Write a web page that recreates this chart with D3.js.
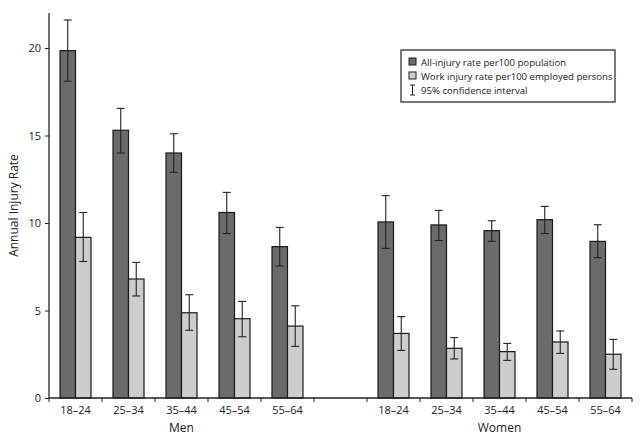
<!DOCTYPE html>
<html><head><meta charset="utf-8">
<script src="https://cdn.jsdelivr.net/npm/d3@7"></script>
<style>body{margin:0;background:#fff;}svg{display:block;font-family:"Open Sans",sans-serif;}</style>
</head><body><svg id="c" width="640" height="448"></svg>
<script>
const groups = ["Men", "Women"];
const ages = ["18–24", "25–34", "35–44", "45–54", "55–64"];
const slots = ["M18–24","M25–34","M35–44","M45–54","M55–64","gap","W18–24","W25–34","W35–44","W45–54","W55–64"];
const allRate = [19.85, 15.3, 14.0, 10.6, 8.65, 10.06, 9.89, 9.56, 10.19, 8.95];
const allLow  = [18.1, 14.0, 12.9, 9.4, 7.54, 8.55, 9.0, 8.95, 9.4, 8.02];
const allHigh = [21.6, 16.55, 15.1, 11.75, 9.75, 11.56, 10.72, 10.13, 10.95, 9.9];
const workRate = [9.18, 6.8, 4.87, 4.53, 4.11, 3.69, 2.84, 2.65, 3.2, 2.5];
const workLow  = [7.8, 5.83, 3.87, 3.5, 2.95, 2.72, 2.23, 2.15, 2.55, 1.64];
const workHigh = [10.6, 7.75, 5.9, 5.52, 5.27, 4.65, 3.45, 3.12, 3.83, 3.35];
const yTicks = [0, 5, 10, 15, 20];
const legendLabels = ["All-injury rate per100 population", "Work injury rate per100 employed persons", "95% confidence interval"];

const svg = d3.select("#c");
const mL = 49, mR = 632, mT = 13, mB = 398;
const x = d3.scaleBand().domain(slots).range([mL, mR]).padding(0);
const inner = d3.scaleBand().domain(["all","work"]).range([0, x.bandwidth()]).paddingInner(0).paddingOuter(0.71);
const y = d3.scaleLinear().domain([0, 22]).range([mB, mT]);

const slotOf = i => i < 5 ? "M" + ages[i] : "W" + ages[i - 5];
const rows = [];
allRate.forEach((v, i) => rows.push({slot: slotOf(i), s: "all", v, lo: allLow[i], hi: allHigh[i]}));
workRate.forEach((v, i) => rows.push({slot: slotOf(i), s: "work", v, lo: workLow[i], hi: workHigh[i]}));
const fill = {all: "#6b6b6b", work: "#cdcdcd"};

svg.selectAll("rect.bar").data(rows).join("rect").attr("class","bar")
  .attr("x", d => x(d.slot) + inner(d.s))
  .attr("width", inner.bandwidth())
  .attr("y", d => y(d.v))
  .attr("height", d => y(0) - y(d.v))
  .attr("fill", d => fill[d.s]).attr("stroke", "#1a1a1a").attr("stroke-width", 1.2);

const eb = svg.append("g").attr("stroke", "#222").attr("stroke-width", 1.1);
rows.forEach(d => {
  const cx = x(d.slot) + inner(d.s) + inner.bandwidth() / 2;
  eb.append("line").attr("x1", cx).attr("x2", cx).attr("y1", y(d.hi)).attr("y2", y(d.lo));
  eb.append("line").attr("x1", cx - 4).attr("x2", cx + 4).attr("y1", y(d.hi)).attr("y2", y(d.hi));
  eb.append("line").attr("x1", cx - 4).attr("x2", cx + 4).attr("y1", y(d.lo)).attr("y2", y(d.lo));
});

// Y axis
const ya = svg.append("g").attr("transform", `translate(${mL},0)`)
  .call(d3.axisLeft(y).tickValues(yTicks).tickSize(4).tickPadding(4).tickFormat(d3.format("d")));
ya.select(".domain").attr("d", `M0,${mT}V${mB}`).attr("stroke", "#222").attr("stroke-width", 1.3);
ya.selectAll("line").attr("stroke", "#222");
ya.selectAll("text").attr("font-family", "Open Sans").attr("font-size", 11).attr("fill", "#222");

// X axis
const xa = svg.append("g").attr("transform", `translate(0,${mB})`);
xa.append("line").attr("x1", mL).attr("x2", mR).attr("stroke", "#222").attr("stroke-width", 1.3);
const bounds = slots.map(s => x(s)).concat([mR]);
xa.selectAll("line.t").data(bounds).join("line").attr("class","t")
  .attr("x1", d => d).attr("x2", d => d).attr("y1", 0).attr("y2", 4).attr("stroke", "#222");
xa.selectAll("text.age").data(slots.filter(s => s !== "gap")).join("text").attr("class","age")
  .attr("x", d => x(d) + x.bandwidth() / 2).attr("y", 16).attr("text-anchor", "middle")
  .attr("font-size", 11).attr("fill", "#222").text(d => d.slice(1));
svg.selectAll("text.grp").data(groups).join("text").attr("class","grp")
  .attr("x", (d, i) => (x(slots[i * 6]) + x(slots[i * 6 + 4]) + x.bandwidth()) / 2)
  .attr("y", 432).attr("text-anchor", "middle").attr("font-size", 12).attr("fill", "#222").text(d => d);

svg.append("text").attr("transform", `translate(18,${(mT + mB) / 2}) rotate(-90)`)
  .attr("text-anchor", "middle").attr("font-size", 12).attr("fill", "#222").text("Annual Injury Rate");

// Legend
const lg = svg.append("g").attr("transform", "translate(401,50)");
lg.append("rect").attr("width", 214).attr("height", 52).attr("fill", "#fff").attr("stroke", "#222").attr("stroke-width", 1.2);
legendLabels.forEach((t, i) => {
  const cy = 12 + i * 14;
  if (i < 2) {
    lg.append("rect").attr("x", 8).attr("y", cy - 4).attr("width", 7).attr("height", 7)
      .attr("fill", i === 0 ? fill.all : fill.work).attr("stroke", "#222").attr("stroke-width", 1);
  } else {
    const g = lg.append("g").attr("stroke", "#222").attr("stroke-width", 1);
    g.append("line").attr("x1", 11.5).attr("x2", 11.5).attr("y1", cy - 5).attr("y2", cy + 5);
    g.append("line").attr("x1", 9).attr("x2", 14).attr("y1", cy - 5).attr("y2", cy - 5);
    g.append("line").attr("x1", 9).attr("x2", 14).attr("y1", cy + 5).attr("y2", cy + 5);
  }
  lg.append("text").attr("x", 20).attr("y", cy + 3.5).attr("font-size", 9.6).attr("fill", "#222").text(t);
});
</script></body></html>
